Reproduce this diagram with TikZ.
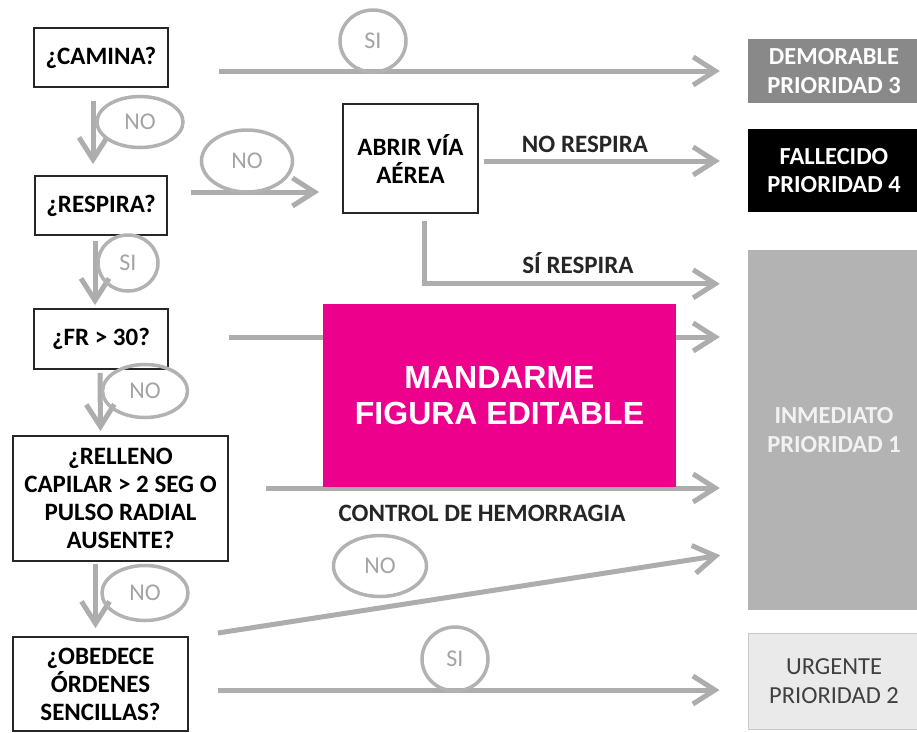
\documentclass[tikz,border=0pt]{standalone}
\usepackage{fontspec}
\setmainfont{Carlito}
\newfontfamily\arialf{Liberation Sans}
\usetikzlibrary{arrows.meta,shapes.geometric,calc}
\definecolor{lgray}{HTML}{ADADAD}
\definecolor{ovalgray}{HTML}{B2B2B2}
\definecolor{ovaltext}{HTML}{A3A3A3}
\definecolor{demgray}{HTML}{898989}
\definecolor{inmgray}{HTML}{B3B3B3}
\definecolor{urggray}{HTML}{EAEAEA}
\definecolor{urgborder}{HTML}{C8C8C8}
\definecolor{magenta1}{HTML}{EC008C}
\begin{document}
\begin{tikzpicture}[x=1pt,y=-1pt,
  qbox/.style={draw=black!85,line width=1.8pt,fill=white,align=center,
    font=\fontsize{25}{28}\selectfont\bfseries,inner sep=0pt},
  rbox/.style={align=center,inner sep=0pt,minimum width=172pt,
    font=\fontsize{24.5}{28.5}\selectfont\bfseries},
  arr/.style={draw=lgray,line width=5pt,-{Straight Barb[length=22pt,width=28pt]}},
  oval/.style={ellipse,draw=ovalgray,line width=3.5pt,inner sep=0pt,
    font=\fontsize{24}{24}\selectfont,text=ovaltext},
  lbl/.style={font=\fontsize{25}{28}\selectfont\bfseries,text=black!85,inner sep=0pt}
]
\useasboundingbox (0,0) rectangle (917,732);

% question boxes
\node[qbox,minimum width=134pt,minimum height=59pt] (camina) at (101,57.5) {¿CAMINA?};
\node[qbox,minimum width=132pt,minimum height=59pt] (respira) at (101,205.5) {¿RESPIRA?};
\node[qbox,minimum width=134pt,minimum height=60pt] (fr) at (101,339) {¿FR > 30?};
\node[qbox,minimum width=215pt,minimum height=125pt] (relleno) at (120.5,498.5) {¿RELLENO\\CAPILAR > 2 SEG O\\PULSO RADIAL\\AUSENTE?};
\node[qbox,minimum width=175pt,minimum height=94pt] (obedece) at (100.5,684) {¿OBEDECE\\ÓRDENES\\SENCILLAS?};
\node[qbox,minimum width=135pt,minimum height=109pt] (abrir) at (410.5,158.5) {ABRIR VÍA\\AÉREA};

% result boxes
\node[rbox,fill=demgray,text=white,minimum height=64pt] (demorable) at (834,71) {DEMORABLE\\PRIORIDAD 3};
\node[rbox,fill=black,text=white,minimum height=83pt] (fallecido) at (834,170.5) {FALLECIDO\\PRIORIDAD 4};
\node[rbox,fill=inmgray,text=white!95!black,minimum height=360pt] (inmediato) at (834,430) {INMEDIATO\\PRIORIDAD 1};
\node[rbox,fill=urggray,draw=urgborder,line width=1pt,text=black!75,minimum height=96pt,
  font=\fontsize{24.5}{28.5}\selectfont] (urgente) at (834,681) {URGENTE\\PRIORIDAD 2};

% connectors
\coordinate (s1) at ($(camina.east)+(50,13.5)$);
\draw[arr,shorten >=28pt] (s1) -- (s1 -| demorable.west);
\draw[arr] ($(camina.south)+(-8,13)$) -- ($(respira.north)+(-8,-11)$);
\coordinate (s2) at ($(respira.east)+(23,-13.5)$);
\draw[arr,shorten >=23pt] (s2) -- (s2 -| abrir.west);
\coordinate (s3) at ($(abrir.east)+(5,2.5)$);
\draw[arr,shorten >=28pt] (s3) -- (s3 -| fallecido.west);
\draw[arr,shorten >=28pt] ($(abrir.south)+(14,7)$) |- ($(inmediato.north west)+(0,34)$);
\draw[arr] ($(respira.south)+(-6,5)$) -- ($(fr.north)+(-6,-3)$);
\coordinate (s4) at ($(fr.east)+(60,-2)$);
\draw[arr,shorten >=28pt] (s4) -- (s4 -| inmediato.west);
\draw[arr] ($(fr.south)+(-1,3)$) -- ($(relleno.north)+(-20,-4)$);
\coordinate (s5) at ($(relleno.east)+(37,-10.5)$);
\draw[arr,shorten >=28pt] (s5) -- (s5 -| inmediato.west);
\draw[arr] ($(relleno.south)+(-25,2)$) -- ($(obedece.north)+(-5,-8)$);
\draw[arr,shorten >=28pt] ($(obedece.east)+(29,-51)$) -- ($(inmediato.west)+(0,121)$);
\coordinate (s6) at ($(obedece.east)+(29,6)$);
\draw[arr,shorten >=28pt] (s6) -- (s6 -| urgente.west);

% labels on connectors
\node[lbl] (lnr) at (585,144) {NO RESPIRA};
\node[lbl] (lsr) at (578,263) {SÍ RESPIRA};
\node[lbl] (lch) at (482,513) {CONTROL DE HEMORRAGIA};

% ovals
\node[oval,minimum width=66pt,minimum height=62pt] (si1) at (373,41) {SI};
\node[oval,minimum width=86pt,minimum height=51pt] (no1) at (140,122) {NO};
\node[oval,minimum width=91pt,minimum height=62pt] (no2) at (247,161) {NO};
\node[oval,minimum width=60pt,minimum height=56pt] (si2) at (128,263) {SI};
\node[oval,minimum width=85pt,minimum height=53pt] (no3) at (145,391) {NO};
\node[oval,minimum width=86pt,minimum height=55pt] (no4) at (145,593) {NO};
\node[oval,minimum width=93pt,minimum height=61pt] (no5) at (380,566) {NO};
\node[oval,minimum width=66pt,minimum height=64pt] (si3) at (455,659) {SI};

% overlay
\node[fill=magenta1,minimum width=353pt,minimum height=183pt,inner sep=0pt,align=center,
  text=white,font=\arialf\bfseries\fontsize{32}{36}\selectfont] (mand) at (499.5,395.5)
  {MANDARME\\FIGURA EDITABLE};
\end{tikzpicture}
\end{document}
